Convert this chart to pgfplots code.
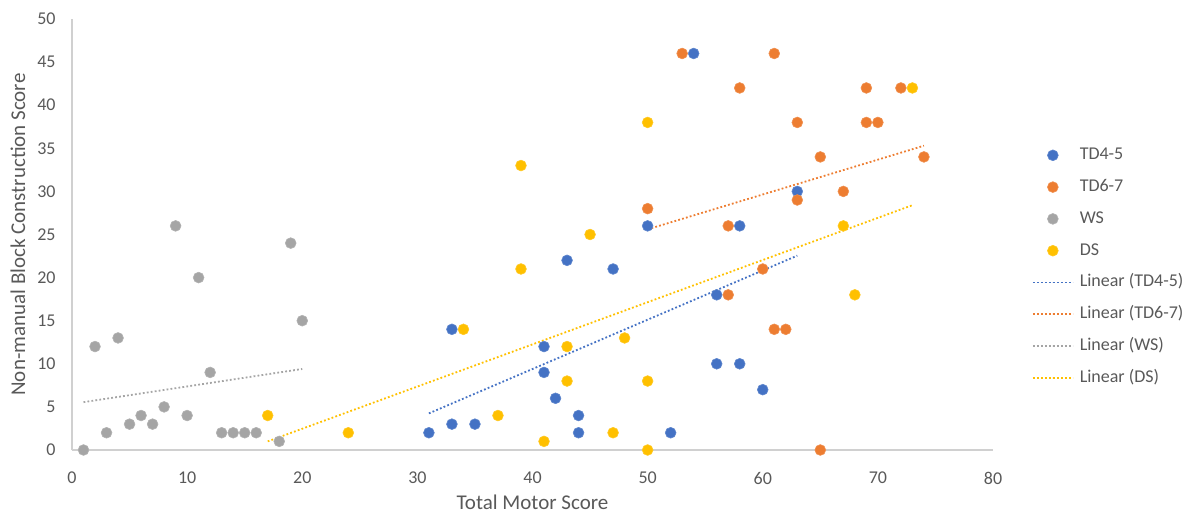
\documentclass[border=0pt]{standalone}
\usepackage{pgfplots}
\pgfplotsset{compat=1.18}
\usepackage{fontspec}
\setmainfont{Carlito}
\definecolor{cblue}{HTML}{4472C4}
\definecolor{corange}{HTML}{ED7D31}
\definecolor{cgray}{HTML}{A5A5A5}
\definecolor{cgold}{HTML}{FFC000}
\definecolor{txt}{HTML}{595959}
\definecolor{axc}{HTML}{D0D0D0}
\begin{document}
\begin{tikzpicture}
\useasboundingbox (-36pt,-32.5pt) rectangle (560.5pt,225pt);
\begin{axis}[
 at={(0pt,0pt)}, anchor=south west,
 width=460.5pt, height=215.5pt, scale only axis,
 xmin=0, xmax=80, ymin=0, ymax=50,
 xtick={0,10,...,80}, ytick={0,5,...,50},
 axis lines*=left,
 axis line style={draw=axc, line width=0.6pt},
 major tick length=0pt,
 tick label style={font=\fontsize{9}{9}\selectfont, text=txt},
 /pgf/number format/assume math mode=true,
 xticklabel style={anchor=center, inner sep=0pt, yshift=-14pt},
 yticklabel style={anchor=east, inner sep=0pt, xshift=-8pt},
 xlabel={Total Motor Score},
 ylabel={Non-manual Block Construction Score},
 label style={font=\fontsize{10.5}{10.5}\selectfont, text=txt},
 xlabel style={at={(axis description cs:0.5,-0.1206)}, anchor=center},
 ylabel style={at={(axis description cs:-0.0586,0.5)}, anchor=center},
 clip=false,
 legend cell align=left,
 legend style={at={(1.0423,0.4225)}, anchor=west, draw=none, fill=none,
   inner sep=0pt, outer sep=0pt, font=\fontsize{9}{9}\selectfont, text=txt,
   row sep=0pt, column sep=3pt,
   nodes={inner sep=0pt, text height=9.5pt, text depth=6.4pt, anchor=base west}},
 legend image code/.code={\draw[mark repeat=2,mark phase=2,#1] plot coordinates {(0pt,2.2pt) (10pt,2.2pt) (20pt,2.2pt)};},
 every axis plot/.append style={mark size=2.7pt},
]
% TD4-5
\addplot[only marks, mark=*, mark options={fill=cblue, draw=cblue!85!white, line width=0.3pt}] coordinates {
 (31,2) (33,14) (33,3) (35,3) (41,12) (41,9) (42,6) (43,22) (44,4) (44,2)
 (47,21) (50,26) (52,2) (54,46) (56,18) (56,10) (58,26) (58,10) (60,7) (63,30)};
\addlegendentry{TD4-5}
% TD6-7
\addplot[only marks, mark=*, mark options={fill=corange, draw=corange!85!white, line width=0.3pt}] coordinates {
 (50,28) (53,46) (57,26) (57,18) (58,42) (60,21) (61,46) (61,14) (62,14) (63,38)
 (63,29) (65,34) (65,0) (67,30) (69,42) (69,38) (70,38) (72,42) (74,34)};
\addlegendentry{TD6-7}
% WS
\addplot[only marks, mark=*, mark options={fill=cgray, draw=cgray!85!white, line width=0.3pt}] coordinates {
 (1,0) (2,12) (3,2) (4,13) (5,3) (6,4) (7,3) (8,5) (9,26) (10,4) (11,20) (12,9)
 (13,2) (14,2) (15,2) (16,2) (18,1) (19,24) (20,15)};
\addlegendentry{WS}
% DS
\addplot[only marks, mark=*, mark options={fill=cgold, draw=cgold!85!white, line width=0.3pt}] coordinates {
 (17,4) (24,2) (34,14) (37,4) (39,33) (39,21) (41,1) (43,12) (43,8) (45,25)
 (47,2) (48,13) (50,38) (50,8) (50,0) (67,26) (68,18) (73,42)};
\addlegendentry{DS}
% trend lines
\addplot[cblue, no marks, line width=0.9pt, dash pattern=on 0.9pt off 1.1pt] coordinates {(31,4.25) (63,22.55)};
\addlegendentry{Linear (TD4-5)}
\addplot[corange, no marks, line width=0.9pt, dash pattern=on 0.9pt off 1.1pt] coordinates {(50,25.6) (74,35.3)};
\addlegendentry{Linear (TD6-7)}
\addplot[cgray, no marks, line width=0.9pt, dash pattern=on 0.9pt off 1.1pt] coordinates {(1,5.55) (20,9.4)};
\addlegendentry{Linear (WS)}
\addplot[cgold, no marks, line width=0.9pt, dash pattern=on 0.9pt off 1.1pt] coordinates {(17,1.0) (73,28.4)};
\addlegendentry{Linear (DS)}
\end{axis}
\end{tikzpicture}
\end{document}
